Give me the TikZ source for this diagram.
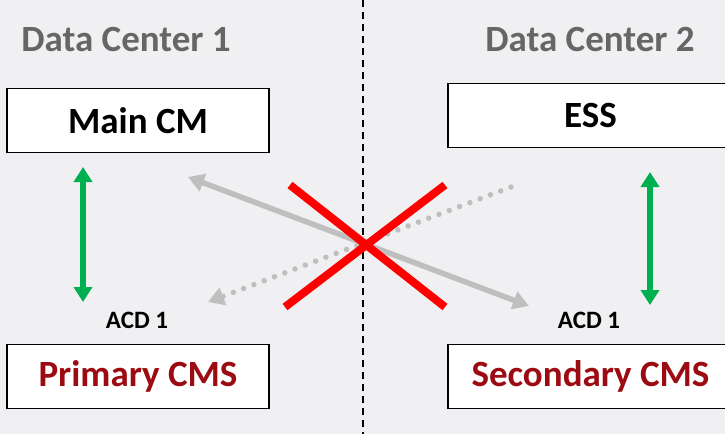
\documentclass[tikz,border=0pt]{standalone}
\usepackage{fontspec}
\setmainfont{Carlito}
\usetikzlibrary{arrows.meta,positioning}
\definecolor{bgcol}{HTML}{F0F0F2}
\definecolor{titlegray}{HTML}{666666}
\definecolor{cmsred}{HTML}{9C0A12}
\definecolor{okgreen}{HTML}{00B050}
\definecolor{linkgray}{HTML}{BFBFBF}

\begin{document}
\begin{tikzpicture}[
      x=1pt,y=-1pt,
      box/.style={draw,line width=1.4pt,fill=white,minimum height=64pt,
        font=\bfseries\fontsize{37}{40}\selectfont},
      dctitle/.style={text=titlegray,font=\bfseries\fontsize{37}{40}\selectfont},
      acd/.style={font=\bfseries\fontsize{25}{28}\selectfont},
      sync/.style={okgreen,line width=5.5pt,{Triangle[width=18pt,length=15pt]}-{Triangle[width=18pt,length=15pt]}},
      repl/.style={linkgray,line width=5.5pt},
      cross/.style={red,line width=8pt}
    ]

    % background and frame
    \fill[bgcol] (0,0) rectangle (725,434);
    \useasboundingbox (0,0) rectangle (725,434);
    \draw[line width=1.4pt,dash pattern=on 7pt off 5pt] (363,0) -- (363,434);

    % data center 1
    \node[dctitle] (dc1) at (126,40) {Data Center 1};
    \node[box,minimum width=262pt] (main) at (138,120.5) {Main CM};
    \node[box,minimum width=262pt,text=cmsred] (prim) at (138,376.5) {Primary CMS};
    \node[acd] (acd1) at (137,320) {ACD 1};

    % data center 2
    \node[dctitle] (dc2) at (590,40) {Data Center 2};
    \node[box,minimum width=285pt] (ess) at (590.5,115.5) {ESS};
    \node[box,minimum width=285pt,text=cmsred] (sec) at (590.5,376.5) {Secondary CMS};
    \node[acd] (acd2) at (589,320) {ACD 1};

    % end points of the links
    \coordinate (g1a) at (83,167);
    \coordinate (g1b) at (83,302);
    \coordinate (g2a) at (650,172);
    \coordinate (g2b) at (650,305);
    \coordinate (s1) at (188,177);
    \coordinate (s2) at (529,306);
    \coordinate (d1) at (511,187);
    \coordinate (d2) at (208,302);
    \coordinate (x1) at (290,185);
    \coordinate (x2) at (445,307);
    \coordinate (x3) at (445,185);
    \coordinate (x4) at (285,307);

    % the arrows
    \draw[sync] (g1a) -- (g1b);
    \draw[sync] (g2a) -- (g2b);
    \draw[repl,{Triangle[width=18pt,length=16pt]}-{Triangle[width=18pt,length=16pt]}] (s1) -- (s2);
    \draw[repl,line cap=round,dash pattern=on 0pt off 11pt,-{Triangle[width=18pt,length=16pt,line cap=butt]}] (d1) -- (d2);

    % the cross
    \draw[cross] (x1) -- (x2);
    \draw[cross] (x3) -- (x4);
\end{tikzpicture}
\end{document}
